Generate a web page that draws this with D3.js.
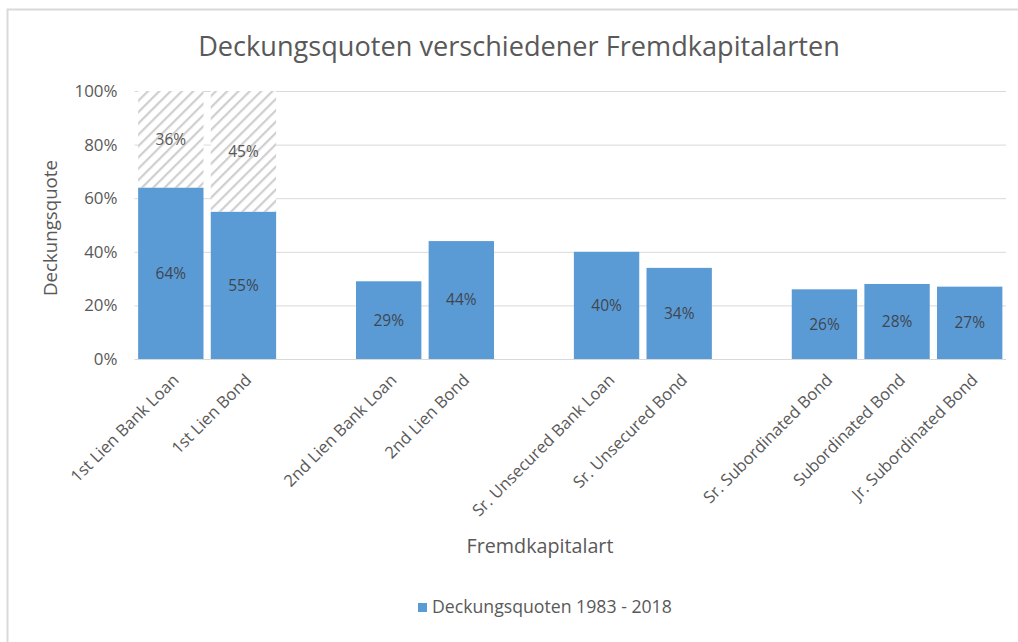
<!DOCTYPE html>
<html>
<head>
<meta charset="utf-8">
<script src="https://cdn.jsdelivr.net/npm/d3@7"></script>
<style>
  html, body { margin: 0; padding: 0; background: #fff; }
  svg { display: block; }
  text { font-family: "Open Sans", "Noto Sans", sans-serif; }
</style>
</head>
<body>
<svg id="chart" width="1018" height="642"></svg>
<script>
// ---- data ----
const categories = ["1st Lien Bank Loan", "1st Lien Bond", "", "2nd Lien Bank Loan", "2nd Lien Bond", "",
  "Sr. Unsecured Bank Loan", "Sr. Unsecured Bond", "", "Sr. Subordinated Bond", "Subordinated Bond", "Jr. Subordinated Bond"];
const recoveryValues = [64, 55, null, 29, 44, null, 40, 34, null, 26, 28, 27];
const remainderValues = [36, 45, null, null, null, null, null, null, null, null, null, null];
const yTicks = [0, 20, 40, 60, 80, 100];
const chartTitle = "Deckungsquoten verschiedener Fremdkapitalarten";
const yTitle = "Deckungsquote";
const xTitle = "Fremdkapitalart";
const seriesName = "Deckungsquoten 1983 - 2018";

// ---- setup ----
const svg = d3.select("#chart");
const blue = "#5b9bd5";
const textGray = "#595959";
const gridGray = "#d9d9d9";

// frame
svg.append("rect").attr("x", 7.5).attr("y", 9.5).attr("width", 1030).attr("height", 650)
  .attr("fill", "#fff").attr("stroke", "#d9d9d9").attr("stroke-width", 2);

const defs = svg.append("defs");
const pat = defs.append("pattern").attr("id", "hatch").attr("patternUnits", "userSpaceOnUse")
  .attr("width", 8).attr("height", 8).attr("patternTransform", "rotate(45)");
pat.append("rect").attr("width", 8).attr("height", 8).attr("fill", "#fff");
pat.append("rect").attr("x", 0).attr("y", 0).attr("width", 2.2).attr("height", 8).attr("fill", "#cfcfcf");

const x = d3.scaleBand().domain(d3.range(categories.length)).range([134.5, 1006]).paddingInner(0.1).paddingOuter(0.05);
const y = d3.scaleLinear().domain([0, 100]).range([359, 91]);

function fit(sel, target) {
  const node = sel.node();
  let fs = parseFloat(sel.attr("font-size"));
  const w = node.getComputedTextLength();
  if (w > 0) sel.attr("font-size", (fs * target / w).toFixed(2));
  return sel;
}

// gridlines
const yAxis = d3.axisLeft(y).tickValues(yTicks).tickSize(-(1006 - 134.5)).tickFormat(d => d + "%");
const gy = svg.append("g").attr("transform", "translate(134.5,0)").call(yAxis);
gy.select(".domain").remove();
gy.selectAll(".tick line").attr("stroke", gridGray).attr("stroke-width", 1);
gy.selectAll(".tick text").attr("x", -17).attr("fill", textGray).attr("font-size", 14.5)
  .attr("font-family", "\"Open Sans\", sans-serif").attr("textLength", null);
gy.selectAll(".tick text").each(function(d) { if (d === 100) fit(d3.select(this), 43); });
const tfs = gy.selectAll(".tick text").filter(d => d === 100).attr("font-size");
gy.selectAll(".tick text").attr("font-size", tfs);

// bars
const bars = svg.append("g");
categories.forEach((c, i) => {
  const v = recoveryValues[i];
  if (v == null) return;
  bars.append("rect").attr("x", x(i)).attr("width", x.bandwidth())
    .attr("y", y(v)).attr("height", y(0) - y(v)).attr("fill", blue);
  bars.append("text").attr("x", x(i) + x.bandwidth() / 2).attr("y", y(v / 2))
    .attr("dy", "0.35em").attr("text-anchor", "middle").attr("font-size", 15.5)
    .attr("fill", "#3f4650").text(v + "%");
  const r = remainderValues[i];
  if (r != null) {
    bars.append("rect").attr("x", x(i)).attr("width", x.bandwidth())
      .attr("y", y(v + r)).attr("height", y(v) - y(v + r)).attr("fill", "url(#hatch)");
    bars.append("text").attr("x", x(i) + x.bandwidth() / 2).attr("y", y(v + r / 2))
      .attr("dy", "0.35em").attr("text-anchor", "middle").attr("font-size", 15.5)
      .attr("fill", "#595959").text(r + "%");
  }
});

// category labels
const xAxis = d3.axisBottom(x).tickSize(0).tickFormat(i => categories[i]);
const gx = svg.append("g").attr("transform", "translate(0,359)").call(xAxis);
gx.select(".domain").remove();
gx.selectAll(".tick text")
  .attr("fill", textGray).attr("font-size", 16.5)
  .attr("font-family", "\"Open Sans\", sans-serif")
  .attr("text-anchor", "end")
  .attr("dy", null).attr("y", 0)
  .attr("transform", "translate(9,22) rotate(-45)");

// titles
const t = svg.append("text").attr("x", 519).attr("y", 56).attr("text-anchor", "middle")
  .attr("font-size", 22).attr("fill", textGray).text(chartTitle);
fit(t, 642);

const yt = svg.append("text").attr("transform", "translate(57,228) rotate(-90)").attr("text-anchor", "middle")
  .attr("font-size", 15).attr("fill", textGray).text(yTitle);
fit(yt, 136);

const xt = svg.append("text").attr("x", 540).attr("y", 553).attr("text-anchor", "middle")
  .attr("font-size", 15).attr("fill", textGray).text(xTitle);
fit(xt, 147);

// legend
const lg = svg.append("g");
lg.append("rect").attr("x", 418).attr("y", 603).attr("width", 9).attr("height", 9).attr("fill", blue);
const lt = lg.append("text").attr("x", 432).attr("y", 612.5).attr("font-size", 13).attr("fill", textGray).text(seriesName);
fit(lt, 240);
</script>
</body>
</html>
